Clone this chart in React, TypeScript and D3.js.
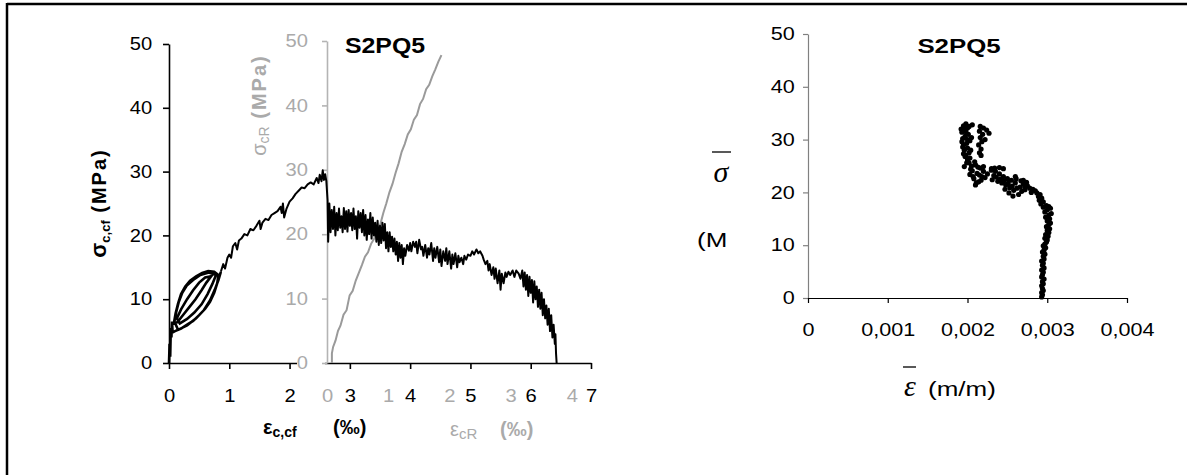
import React, { useEffect, useRef } from 'react';
import * as d3 from 'd3';

const W = 1187;
const H = 475;
const FONT = 'Liberation Sans, Arial, sans-serif';

// left panel, black: start of test, load/unload cycles (eps c,cf in permil, sigma in MPa)
const cfLoops: [number, number][] = [
  [0, 0], [0.01, 3], [0.02, 1], [0.03, 5.5], [0.04, 4], [0.05, 6.5], [0.06, 4.8],
  [0.1, 5], [0.2, 5.4], [0.3, 6], [0.4, 6.6], [0.5, 7.5], [0.6, 8.5], [0.68, 9.6], [0.75, 11], [0.8, 12.5], [0.82, 13.8],
  [0.75, 14.3], [0.65, 14.4], [0.55, 14.1], [0.45, 13.6], [0.35, 12.9], [0.27, 12], [0.2, 10.8], [0.15, 9.3], [0.11, 7.8], [0.08, 6.2],
  [0.14, 6.4], [0.24, 7.6], [0.34, 8.8], [0.44, 10], [0.54, 11.4], [0.62, 12.6], [0.7, 13.6],
  [0.6, 13.4], [0.5, 12.6], [0.4, 11.4], [0.3, 10], [0.2, 8.4], [0.13, 7],
  [0.18, 6.2], [0.3, 6.9], [0.42, 7.9], [0.54, 9.2], [0.64, 10.8], [0.72, 12.4], [0.78, 13.8],
  [0.66, 14.2], [0.52, 13.8], [0.4, 13], [0.3, 12.2], [0.22, 11], [0.16, 9.5], [0.12, 8], [0.09, 6.5],
  [0.15, 5.2], [0.3, 5.9], [0.45, 7], [0.58, 8.3], [0.68, 9.8], [0.76, 11.5], [0.82, 13], [0.86, 14.3],
];

// left panel, black: envelope after the cycles
const cfCurve: [number, number][] = [
  [0.86, 14.3], [0.9, 15.5], [0.93, 14.8], [0.97, 16.5], [1.0, 17], [1.03, 16.5], [1.06, 18.3], [1.1, 18.8], [1.13, 17.8],
  [1.16, 19.2], [1.2, 19.5], [1.25, 20.2], [1.3, 20], [1.35, 21], [1.4, 20.8], [1.45, 21.5], [1.5, 22.3], [1.52, 21],
  [1.55, 22], [1.6, 22.6], [1.65, 22.4], [1.7, 23.2], [1.75, 23.5], [1.8, 23.8], [1.85, 24.5], [1.87, 23.5], [1.89, 25],
  [1.91, 22.8], [1.95, 24.2], [2.0, 25.3], [2.05, 25.8], [2.1, 26.5], [2.15, 27], [2.2, 27.5], [2.25, 27.4], [2.3, 28],
  [2.35, 28.3], [2.4, 28], [2.45, 29], [2.48, 28.2], [2.5, 29.5], [2.53, 28.5], [2.55, 30.2], [2.57, 28.7], [2.59, 29.6],
  [2.61, 28.5], [2.63, 25.5], [2.64, 19], [2.66, 25], [2.68, 20.5], [2.7, 24], [2.72, 21], [2.74, 24.5], [2.76, 20],
  [2.78, 23.5], [2.8, 20.8], [2.82, 24.2], [2.84, 21.2], [2.86, 23], [2.88, 20.5], [2.9, 24.3], [2.92, 21], [2.94, 23.8],
  [2.96, 20.6], [2.98, 24], [3.0, 21.5], [3.02, 23.5], [3.04, 20.8], [3.06, 24.2], [3.08, 21], [3.1, 23], [3.12, 19.5],
  [3.14, 23.8], [3.16, 21.2], [3.18, 23.5], [3.2, 20.5], [3.22, 24], [3.24, 20], [3.26, 23.2], [3.28, 19.3], [3.3, 22.5],
  [3.32, 20.2], [3.34, 23.5], [3.36, 19.5], [3.38, 22.8], [3.4, 20], [3.42, 22], [3.44, 19], [3.46, 22.3], [3.48, 18.5],
  [3.5, 21.5], [3.52, 18.8], [3.54, 22], [3.56, 19.2], [3.58, 21.8], [3.6, 18], [3.62, 20.5], [3.64, 17.5], [3.66, 20.5],
  [3.68, 18.2], [3.7, 19.8], [3.72, 17.5], [3.74, 19.5], [3.76, 17], [3.78, 19], [3.8, 16], [3.82, 18.8], [3.84, 16.5],
  [3.86, 18.5], [3.88, 15.5], [3.9, 18], [3.92, 16.8], [3.95, 18.5], [3.98, 17.6], [4.0, 18.8], [4.02, 17.5], [4.05, 19],
  [4.08, 18.2], [4.1, 19], [4.12, 17.2], [4.15, 19.3], [4.18, 17.8], [4.2, 18.2], [4.22, 16.8], [4.25, 18.5], [4.28, 16.5],
  [4.3, 18], [4.32, 17], [4.35, 18.8], [4.38, 16], [4.4, 18], [4.42, 16.5], [4.45, 18.2], [4.48, 15.8], [4.5, 17.8],
  [4.52, 15.2], [4.55, 17.5], [4.58, 16], [4.6, 18], [4.62, 15.5], [4.65, 17.5], [4.68, 14.8], [4.7, 17], [4.72, 15.5],
  [4.75, 17.2], [4.78, 15], [4.8, 16.8], [4.82, 15.8], [4.85, 16.5], [4.88, 15.5], [4.9, 16.8], [4.93, 16.2], [4.96, 17],
  [5.0, 16.8], [5.03, 17.5], [5.06, 17], [5.1, 17.8], [5.13, 17.2], [5.16, 17.5], [5.2, 16.8], [5.22, 16.2], [5.25, 15.5],
  [5.28, 16], [5.3, 14.5], [5.32, 15.5], [5.35, 13.8], [5.38, 15], [5.4, 13.2], [5.42, 14.8], [5.45, 12.5], [5.48, 14.5],
  [5.5, 11.5], [5.52, 14], [5.55, 12.5], [5.58, 14.2], [5.6, 13.5], [5.63, 14.3], [5.66, 13.8], [5.7, 14.5], [5.73, 13.5],
  [5.76, 14.5], [5.8, 14], [5.83, 13.2], [5.86, 14.5], [5.88, 12], [5.9, 14.2], [5.92, 11.5], [5.94, 13.8], [5.96, 10.5],
  [5.98, 13.5], [6.0, 11], [6.02, 13], [6.04, 9.5], [6.06, 12.8], [6.08, 10], [6.1, 12], [6.12, 8.8], [6.14, 11.5],
  [6.16, 8.5], [6.18, 11], [6.2, 7.5], [6.22, 10], [6.24, 7], [6.26, 9], [6.28, 6], [6.3, 8.5], [6.32, 5], [6.34, 7.5],
  [6.36, 4], [6.38, 6], [6.4, 3], [6.41, 4.5], [6.42, 1.5], [6.43, 0],
];

// left panel, grey: eps cR (permil) vs sigma cR (MPa)
const crCurve: [number, number][] = [
  [0.08, 0], [0.08, 1.5], [0.1, 2.5], [0.14, 3.5], [0.18, 5], [0.22, 5.8], [0.27, 7.5], [0.32, 8.2], [0.37, 10.5],
  [0.42, 11.2], [0.47, 12.8], [0.52, 14], [0.57, 15.2], [0.62, 16.5], [0.67, 17.2], [0.72, 18.5], [0.77, 19.3],
  [0.82, 20.5], [0.87, 21.5], [0.92, 23.3], [0.97, 24.8], [1.02, 26.5], [1.07, 27.8], [1.12, 29.5], [1.17, 31],
  [1.22, 32.8], [1.27, 34], [1.32, 35.5], [1.37, 36.3], [1.42, 37.8], [1.47, 38.5], [1.52, 40.2], [1.57, 41],
  [1.62, 42.5], [1.67, 43.2], [1.72, 44.5], [1.77, 45.6], [1.82, 46.8], [1.87, 47.8],
];

// right panel: mean strain (x 1e-3 m/m) vs mean stress (MPa)
const avgPoints: [number, number][] = [
  [2.93, 0.2], [2.94, 0.6], [2.93, 1.0], [2.95, 1.4], [2.94, 1.8], [2.93, 2.3], [2.95, 2.7], [2.94, 3.1], [2.96, 3.6],
  [2.93, 4.0], [2.94, 4.4], [2.95, 4.9], [2.93, 5.3], [2.96, 5.7], [2.94, 6.2], [2.95, 6.6], [2.93, 7.0], [2.96, 7.4],
  [2.95, 7.9], [2.97, 8.3], [2.94, 8.7], [2.96, 9.1], [2.98, 9.5], [2.95, 9.9],
  [2.97, 10.2], [2.99, 10.6], [3.0, 11.0], [2.97, 11.3], [3.01, 11.7], [2.98, 12.0], [3.02, 12.4], [3.0, 12.8],
  [3.03, 13.1], [2.99, 13.5], [3.02, 13.9], [3.04, 14.2], [3.0, 14.6], [3.03, 15.0], [2.98, 15.3], [3.02, 15.7],
  [3.05, 16.0], [2.97, 16.3], [3.0, 16.7], [3.04, 17.0], [2.95, 17.2], [2.99, 17.5], [3.02, 17.3],
  [2.92, 17.8], [2.95, 18.2], [2.9, 18.5], [2.93, 18.9], [2.89, 19.2], [2.91, 19.6], [2.87, 19.9], [2.85, 20.3], [2.82, 20.6],
  [2.8, 20.0], [2.78, 20.8], [2.75, 21.3], [2.72, 20.5], [2.7, 21.6], [2.68, 20.2], [2.66, 21.0], [2.64, 19.6],
  [2.62, 20.8], [2.6, 21.8], [2.58, 20.4], [2.56, 21.2], [2.55, 22.3], [2.53, 20.9], [2.51, 21.7], [2.5, 22.6],
  [2.48, 21.4], [2.46, 22.2], [2.45, 23.0], [2.43, 21.8], [2.41, 22.5], [2.4, 23.5], [2.38, 22.1], [2.36, 22.9],
  [2.35, 24.0], [2.33, 23.2], [2.31, 22.4], [2.3, 24.2], [2.61, 22.6], [2.67, 22.2], [2.74, 21.9], [2.57, 19.3],
  [2.52, 19.9], [2.47, 20.6],
  [2.25, 23.5], [2.22, 22.8], [2.2, 24.0], [2.18, 23.0], [2.16, 24.6], [2.14, 22.0], [2.12, 23.6], [2.1, 21.4],
  [2.08, 22.6], [2.06, 24.1], [2.05, 25.0], [2.03, 23.4], [2.02, 25.6], [2.1, 25.2], [2.15, 23.3], [2.2, 24.9],
  [2.13, 24.8], [2.07, 23.0], [2.11, 21.8], [2.17, 22.3], [2.04, 24.4], [2.09, 25.8],
  [2.0, 26.2], [1.98, 27.0], [2.02, 27.5], [1.96, 28.0], [2.0, 28.4], [1.95, 29.0], [1.99, 29.3], [2.03, 29.8],
  [1.94, 30.2], [1.97, 30.6], [2.01, 31.0], [1.93, 31.4], [1.96, 31.8], [2.0, 32.2], [1.95, 32.6], [1.98, 33.0],
  [1.92, 32.0], [1.94, 28.6], [2.04, 28.0], [1.97, 26.8], [2.03, 26.5], [1.99, 25.6], [1.96, 24.9], [2.05, 30.4],
  [2.06, 32.8], [1.93, 29.6], [2.0, 30.0], [1.98, 31.5], [2.02, 32.5], [1.95, 27.3],
  [2.15, 27.5], [2.17, 28.2], [2.14, 29.0], [2.18, 29.6], [2.16, 30.4], [2.19, 31.0], [2.15, 31.6], [2.2, 32.2],
  [2.24, 31.8], [2.27, 31.2], [2.22, 30.0], [2.17, 27.0], [2.16, 32.5],
  [2.3, 24.5], [2.34, 24.6], [2.4, 24.7], [2.45, 24.5], [2.6, 23.0], [2.7, 22.3], [2.72, 21.0],
];

const cfTicks = [0, 1, 2, 3, 4, 5, 6, 7];
const crTicks = [0, 1, 2, 3, 4];
const stressTicks = [0, 10, 20, 30, 40, 50];
const avgStrainTicks = [0, 0.001, 0.002, 0.003, 0.004];

const xCf = d3.scaleLinear().domain([0, 7]).range([169, 591]);
const yCf = d3.scaleLinear().domain([0, 50]).range([363, 44]);
const xCr = d3.scaleLinear().domain([0, 4]).range([327, 327 + 4 * 61.2]);
const yCr = d3.scaleLinear().domain([0, 50]).range([363, 41]);
const xAvg = d3.scaleLinear().domain([0, 0.004]).range([808, 1127]);
const yAvg = d3.scaleLinear().domain([0, 50]).range([298, 34]);

const intFmt = d3.format('d');
const commaFmt = (d: any) => (d === 0 ? '0' : d3.format('.3f')(d).replace('.', ','));

const styleAxis = (sel: any, line: string, text: string, sx: number, lw: number) => {
  sel.attr('font-size', null).attr('font-family', null);
  sel.selectAll('path.domain').attr('stroke', line).attr('stroke-width', lw);
  sel.selectAll('.tick line').attr('stroke', line).attr('stroke-width', lw);
  sel.selectAll('.tick text')
    .attr('fill', text)
    .attr('font-size', 18)
    .attr('font-family', FONT)
    .attr('transform', `scale(${sx},1)`);
};

export default function App() {
  const axesRef = useRef<SVGGElement>(null);

  useEffect(() => {
    const g = d3.select(axesRef.current);
    g.selectAll('*').remove();

    // left panel black axes
    const yl = g.append('g').attr('transform', `translate(${xCf(0)},0)`)
      .call(d3.axisLeft(yCf).tickValues(stressTicks).tickFormat(intFmt).tickSize(6).tickPadding(9).tickSizeOuter(0));
    styleAxis(yl, '#000', '#000', 1.12, 1.6);
    const xl = g.append('g').attr('transform', `translate(0,${yCf(0)})`)
      .call(d3.axisBottom(xCf).tickValues(cfTicks).tickFormat(intFmt).tickSize(6).tickPadding(20).tickSizeOuter(0));
    styleAxis(xl, '#000', '#000', 1.12, 1.6);

    // gap in black axis under the grey zero
    g.append('rect').attr('x', 297).attr('y', 360).attr('width', 28).attr('height', 6).attr('fill', '#fff');

    // left panel grey axes
    const yr = g.append('g').attr('transform', `translate(${xCr(0)},0)`)
      .call(d3.axisLeft(yCr).tickValues(stressTicks).tickFormat(intFmt).tickSize(5).tickPadding(12).tickSizeOuter(0));
    styleAxis(yr, '#b4b4b4', '#aaa', 1.12, 1.6);
    const xr = g.append('g').attr('transform', `translate(0,${yCf(0)})`)
      .call(d3.axisBottom(xCr).tickValues(crTicks).tickFormat(intFmt).tickSize(0).tickPadding(26));
    styleAxis(xr, '#aaa', '#aaa', 1.12, 1);
    xr.select('path.domain').remove();

    // right panel axes
    const ya = g.append('g').attr('transform', `translate(${xAvg(0)},0)`)
      .call(d3.axisLeft(yAvg).tickValues(stressTicks).tickFormat(intFmt).tickSize(5).tickPadding(6).tickSizeOuter(0));
    styleAxis(ya, '#808080', '#000', 1.2, 1.2);
    const xa = g.append('g').attr('transform', `translate(0,${yAvg(0)})`)
      .call(d3.axisBottom(xAvg).tickValues(avgStrainTicks).tickFormat(commaFmt).tickSize(5).tickPadding(20).tickSizeOuter(0));
    styleAxis(xa, '#000', '#000', 1.2, 1.2);
  }, []);

  const cfLine = d3.line<[number, number]>().x(d => xCf(d[0])).y(d => yCf(d[1]));
  const crLine = d3.line<[number, number]>().x(d => xCr(d[0])).y(d => yCr(d[1]));

  return (
    <svg width={W} height={H} style={{ position: 'absolute', left: 0, top: 0, background: '#fff' }}
      fontFamily={FONT}>
      <line x1={7} x2={W} y1={4} y2={4} stroke="#000" strokeWidth={2.5} />
      <line x1={7} x2={7} y1={3} y2={H} stroke="#000" strokeWidth={2.5} />
      <g ref={axesRef} />

      {/* left panel */}
      <path d={crLine(crCurve) || ''} fill="none" stroke="#9a9a9a" strokeWidth={2} />
      <path d={cfLine(cfLoops) || ''} fill="none" stroke="#000" strokeWidth={2.6} />
      <path d={cfLine(cfCurve) || ''} fill="none" stroke="#000" strokeWidth={2} strokeLinejoin="round" />

      <text transform="translate(385,53) scale(1.13,1)" textAnchor="middle" fontSize={22} fontWeight="bold">S2PQ5</text>

      <text transform="translate(106,203) rotate(-90)" textAnchor="middle" fontWeight="bold" fontSize={20}>
        <tspan fontSize={22}>σ</tspan>
        <tspan fontSize={13} dy={4}>c,cf</tspan>
        <tspan dy={-4} letterSpacing={2}> (MPa)</tspan>
      </text>
      <text transform="translate(266,105) rotate(-90)" textAnchor="middle" fill="#aaa" fontSize={20}>
        <tspan fontSize={20}>σ</tspan>
        <tspan fontSize={14} dy={3}>cR</tspan>
        <tspan dy={-3} fontWeight="bold" letterSpacing={2}> (MPa)</tspan>
      </text>

      <text y={434} fontWeight="bold" fontSize={20}>
        <tspan x={263}>ε</tspan>
        <tspan fontSize={14} dy={3}>c,cf</tspan>
        <tspan x={333} dy={-3}>(‰)</tspan>
      </text>
      <text y={436} fill="#aaa" fontSize={20}>
        <tspan x={450}>ε</tspan>
        <tspan fontSize={15} dy={3}>cR</tspan>
        <tspan x={500} dy={-3} fontWeight="bold">(‰)</tspan>
      </text>

      {/* right panel */}
      <g>
        {avgPoints.map((d, i) => (
          <circle key={i} cx={xAvg(d[0] / 1000)} cy={yAvg(d[1])} r={2.6} fill="#000" />
        ))}
      </g>
      <text transform="translate(959,53) scale(1.23,1)" textAnchor="middle" fontSize={21} fontWeight="bold">S2PQ5</text>

      <line x1={712} x2={731} y1={152} y2={152} stroke="#222" strokeWidth={1.5} />
      <text x={721} y={182} textAnchor="middle" fontFamily="Liberation Serif, Times New Roman, serif"
        fontStyle="italic" fontSize={30}>σ</text>
      <text transform="translate(697,247) scale(1.3,1)" fontSize={20}>(M</text>

      <line x1={903} x2={916} y1={367} y2={367} stroke="#222" strokeWidth={1.5} />
      <text x={910} y={396} textAnchor="middle" fontFamily="Liberation Serif, Times New Roman, serif"
        fontStyle="italic" fontSize={30}>ε</text>
      <text transform="translate(928,396) scale(1.3,1)" fontSize={20}>(m/m)</text>
    </svg>
  );
}
